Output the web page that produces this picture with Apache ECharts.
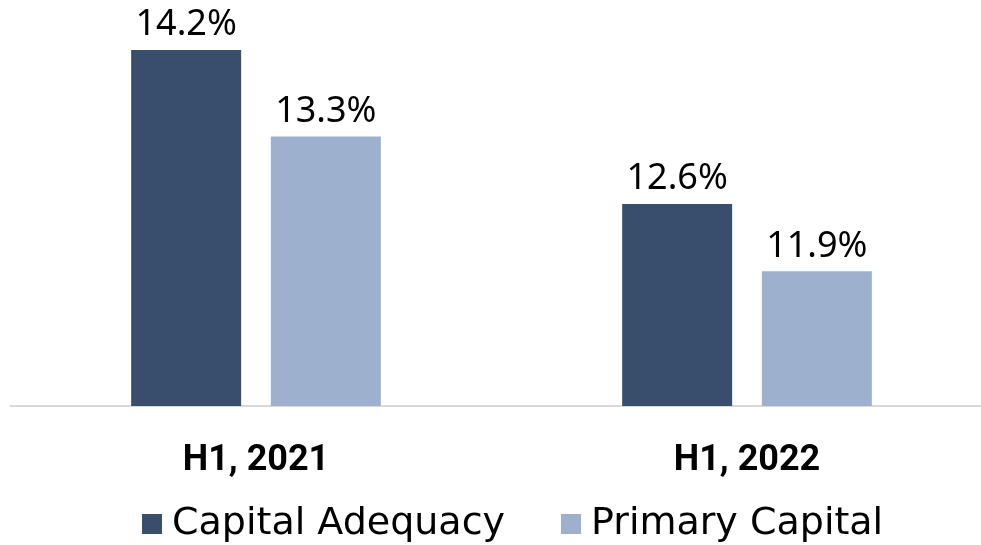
<!DOCTYPE html>
<html>
<head>
<meta charset="utf-8">
<script src="https://cdn.jsdelivr.net/npm/echarts@6/dist/echarts.min.js"></script>
<style>html,body{margin:0;padding:0;background:#fff;}#c{width:981px;height:545px;}</style>
</head>
<body>
<div id="c"></div>
<script>
const categories = ['H1, 2021', 'H1, 2022'];
const capitalAdequacy = [14.2, 12.6];
const primaryCapital = [13.3, 11.9];
const seriesNames = ['Capital Adequacy', 'Primary Capital'];

const chart = echarts.init(document.getElementById('c'));
const labelStyle = {
  show: true, position: 'top', distance: 7,
  formatter: p => p.value.toFixed(1) + '%',
  fontFamily: 'Noto Sans', fontSize: 36, color: '#000'
};
chart.setOption({
  animation: false,
  backgroundColor: '#fff',
  grid: { left: 10.5, width: 982, top: 21, bottom: 139, outerBoundsMode: 'none', containLabel: false },
  legend: {
    data: seriesNames,
    bottom: -3,
    left: 137,
    itemWidth: 20, itemHeight: 20, itemGap: 56,
    icon: 'rect',
    textStyle: { fontFamily: 'DejaVu Sans', fontSize: 38, color: '#000', padding: [0, 0, 0, 5] }
  },
  xAxis: {
    type: 'category', data: categories,
    axisLine: { show: true, lineStyle: { color: '#d9d9d9', width: 2 } },
    axisTick: { show: false },
    axisLabel: { margin: 37, fontFamily: 'Roboto', fontWeight: 'bold', fontSize: 36, color: '#000' }
  },
  yAxis: { type: 'value', min: 10.5, max: 14.5, show: false, splitLine: { show: false } },
  series: [
    { name: seriesNames[0], type: 'bar', data: capitalAdequacy, barWidth: 110, barGap: '27%',
      itemStyle: { color: '#394e6d' }, label: labelStyle },
    { name: seriesNames[1], type: 'bar', data: primaryCapital, barWidth: 110,
      itemStyle: { color: '#9db1cf' }, label: labelStyle }
  ]
});
</script>
</body>
</html>
